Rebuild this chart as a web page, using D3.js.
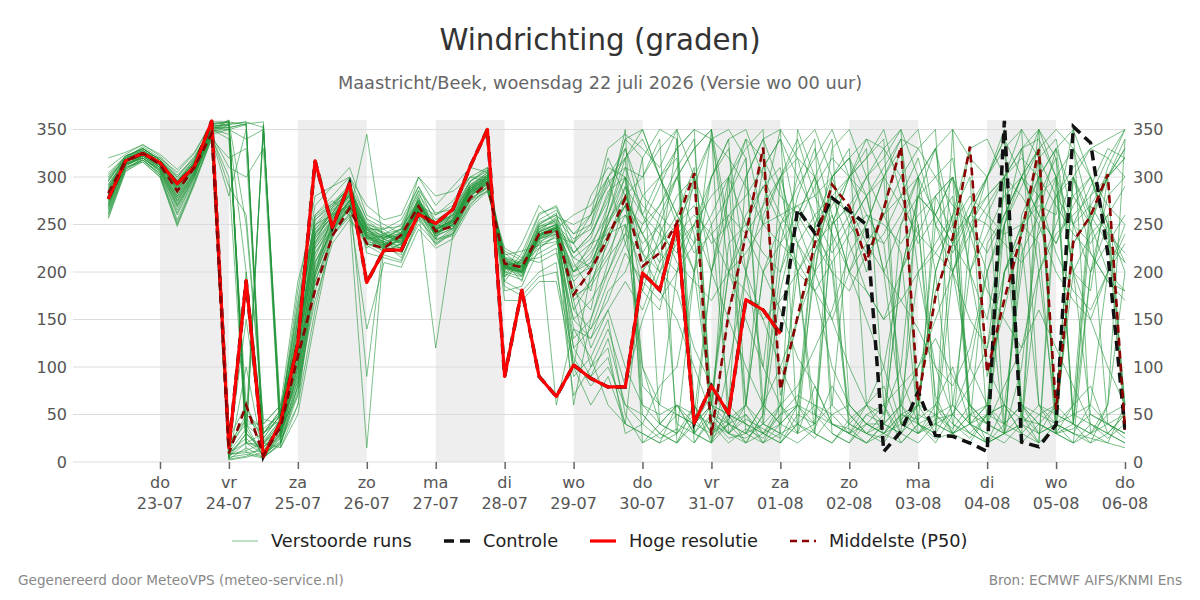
<!DOCTYPE html>
<html><head><meta charset="utf-8">
<script src="https://cdn.jsdelivr.net/npm/d3@7"></script>
<style>body{margin:0;background:#fff} svg{display:block}</style>
</head><body><svg id="c" width="1200" height="600"></svg>
<script>
// ---------- DATA ----------
const startTime = Date.UTC(2026, 6, 22, 6); // first 6-hourly step
const stepHours = 6;
const hres = [277,317,325,315,293,311,359,15,191,6,42,125,317,247,293,189,223,223,261,251,266,311,350,90,181,90,69,102,88,79,79,199,181,250,41,80,51,171,160,135];
const control = [277,317,325,315,293,311,359,15,191,6,42,125,317,247,293,189,223,223,261,251,266,311,350,90,181,90,69,102,88,79,79,199,181,250,41,80,51,171,160,135,
  266,241,278,264,250,11,32,74,28,27,20,11,359,21,16,39,353,336,220,34];
const p50 = [283,317,325,313,285,310,346,9,60,7,37,111,181,238,267,230,225,239,269,243,248,278,293,209,205,240,244,176,202,236,278,206,220,252,304,28,157,239,331,76,153,230,292,269,211,266,332,65,174,236,332,94,171,241,329,55,232,259,303,34];
const members = [
 [282,318,326,314,288,312,352,10,25,8,30,110,230,255,275, 235,228,240,270,245,255,285,295,205,200,235,240,170,190,230, 290,210,230,260,310,20,160,240,330,70,150,220,280,260,200, 270,330,60,180,230,330,90,160,240,320,50,230,260,300,40],
 [270,312,322,310,275,305,355,358,40,5,20,90,200,250,265, 240,220,230,260,250,245,280,300,210,190,250,260,210,180,260, 320,60,40,30,200,350,30,25,40,180,260,300,240,30,20, 40,200,280,330,250,60,20,30,100,250,300,40,20,60,200],
 [300,322,330,318,295,318,348,5,200,20,45,150,250,270,290, 250,235,225,280,235,265,290,305,195,210,230,245,130,150,210, 280,240,200,250,290,340,240,60,30,20,40,250,280,300,330, 60,20,40,280,300,250,200,30,40,320,340,250,200,230,260],
 [260,308,320,306,268,300,345,350,355,10,35,70,180,240,260, 15,230,215,250,230,240,270,290,220,205,220,230,200,220,250, 300,100,60,50,40,30,45,60,200,250,270,240,210,50,30, 25,45,60,30,200,260,300,340,60,40,30,250,270,240,40],
 [290,316,324,312,290,314,358,20,45,30,55,130,240,265,280, 225,240,245,285,240,250,275,290,215,200,245,255,180,160,240, 270,180,240,280,300,200,300,340,250,230,210,180,150,200,250, 300,330,350,250,200,150,120,250,300,350,320,200,180,300,340],
 [275,314,328,316,282,308,350,3,15,5,25,100,220,245,270, 230,225,235,265,120,240,280,295,200,195,240,60,140,130,180, 200,250,290,330,350,40,20,35,25,50,60,40,300,320,240, 230,90,40,25,30,50,40,200,250,230,30,20,40,30,50],
 [285,320,325,312,280,310,347,360,30,355,15,60,200,262,290, 240,230,225,275,245,255,290,300,190,215,260,270,230,200,270, 330,260,220,200,300,340,350,320,40,30,20,35,80,50,30, 40,60,200,230,260,40,50,60,30,20,280,310,330,320,300],
 [265,310,318,304,260,298,356,358,250,40,60,190,260,280,300, 255,240,250,290,250,260,295,310,180,185,225,240,90,110,150, 50,20,40,60,30,50,40,60,260,300,340,280,240,200,180, 150,170,200,220,250,280,260,240,250,270,260,350,30,20,60],
 [295,320,332,320,300,322,352,15,50,35,50,140,260,275,260, 245,245,230,270,260,275,300,300,200,230,270,250,200,230,260, 310,300,340,20,60,20,100,200,270,350,30,40,60,250,280, 300,40,30,60,100,40,30,20,40,200,250,300,260,230,210],
 [280,316,326,316,292,316,350,340,60,10,20,80,190,235,300, 220,215,210,255,235,240,275,285,225,215,210,220,150,170,200, 250,200,230,250,270,230,250,300,340,290,200,180,210,240,260, 250,230,260,280,240,260,250,230,210,240,280,300,220,190,180],
 [272,312,322,308,270,302,342,300,20,15,40,120,240,258,280, 238,232,220,262,242,248,282,296,207,198,235,243,100,200,250, 280,50,30,20,45,25,40,30,60,40,350,300,250,270,300, 320,350,30,40,50,30,20,60,200,350,40,30,25,20,15],
 [310,324,334,322,302,320,354,8,10,12,28,95,210,250,272, 248,222,238,268,250,258,288,298,212,205,248,252,220,240,280, 340,350,300,320,30,60,230,250,290,310,200,50,40,30,60, 50,100,280,300,320,200,150,250,290,330,30,60,280,320,350],
 [258,306,318,302,255,296,340,280,350,25,50,170,270,290,310, 260,250,240,300,270,290,310,305,190,180,200,210,70,100,120, 30,40,25,35,20,45,25,30,40,60,30,80,40,35,20, 30,50,45,60,40,25,50,60,45,40,30,35,50,40,30],
 [288,318,324,314,286,312,350,12,180,30,55,160,250,260,270, 242,236,245,275,238,262,292,302,216,210,255,265,240,250,300, 330,280,260,240,200,250,280,340,320,280,260,230,200,180,220, 260,300,330,350,60,40,30,200,240,280,300,250,230,260,290],
 [292,320,328,316,296,315,353,356,30,15,35,110,230,268,285, 235,238,232,272,248,252,286,293,203,207,238,248,160,190,220, 260,220,200,230,250,280,300,30,20,40,60,50,30,20,50, 40,30,300,330,350,40,60,30,20,40,60,40,30,60,340],
 [268,314,320,306,265,302,348,5,30,350,45,100,210,245,265, 140,210,205,245,225,235,268,285,222,212,215,225,120,140,170, 220,190,170,200,230,260,300,250,220,200,250,290,320,300,280, 200,170,140,100,80,120,200,260,300,280,220,180,160,200,240],
 [300,318,326,320,305,325,356,358,355,5,30,80,170,230,255, 232,228,242,282,255,265,295,308,198,192,242,258,250,260,330, 345,330,310,350,60,30,50,40,20,30,40,25,50,60,40, 30,20,40,50,35,60,40,30,50,20,40,60,80,30,20],
 [276,312,324,310,278,306,345,25,60,20,15,50,150,240,270, 250,245,255,290,260,270,300,295,185,175,195,200,110,80,100, 60,40,80,100,200,300,330,200,100,60,80,120,160,220,250, 300,340,200,100,50,80,120,200,250,300,330,200,150,100,60],
 [284,316,330,318,290,310,351,18,40,40,60,130,235,260,282, 246,230,228,266,232,246,280,292,210,202,232,240,200,210,245, 260,230,250,300,330,350,250,200,150,100,60,30,250,300,320, 350,280,230,260,300,200,100,60,30,300,330,280,250,300,330],
 [262,310,316,300,250,294,344,310,300,330,20,70,190,238,258, 228,218,212,258,228,242,278,288,218,222,228,232,190,120,160, 190,160,210,240,260,240,200,180,150,170,200,230,250,270,230, 200,250,280,260,230,200,240,280,300,260,230,280,300,250,210],
 [296,322,328,316,294,316,357,2,5,10,40,120,225,252,276, 238,226,236,264,246,250,284,296,206,200,240,246,60,150,200, 240,320,350,340,30,20,60,300,340,350,320,300,60,40,30, 20,50,40,30,350,320,300,40,30,50,60,300,330,340,350],
 [278,316,322,312,284,308,349,350,200,30,45,150,245,262,286, 252,240,235,278,236,254,288,300,211,203,236,244,230,280,310, 300,80,60,200,250,200,150,100,60,200,280,330,260,200,150, 100,40,60,200,260,300,40,30,260,300,50,40,200,280,300],
 [270,314,320,308,272,304,346,4,100,8,22,60,160,245,275, 230,222,230,260,230,244,276,290,208,196,230,236,150,130,160, 100,60,50,60,40,60,50,20,30,50,70,60,40,30,20, 40,60,30,45,50,30,20,40,60,50,40,20,30,50,60],
 [304,322,330,318,298,318,351,352,356,358,35,140,255,272,292, 256,246,248,286,262,266,296,306,195,220,262,268,220,235,285, 300,270,250,210,190,170,200,220,250,260,270,280,300,320,340, 300,270,240,220,200,240,270,300,280,250,200,170,150,200,250],
 [286,318,326,314,287,311,353,10,35,6,28,105,215,256,278, 237,229,233,267,241,249,283,294,204,199,237,245,205,225,270, 350,20,30,50,40,70,200,260,290,250,200,30,20,40,60, 80,30,20,40,230,260,280,300,40,30,60,300,250,200,180],
 [274,312,320,308,276,304,346,355,358,352,50,180,280,290,300, 270,255,260,300,280,285,300,310,170,170,190,190,100,90,110, 40,30,20,30,50,200,260,240,200,160,110,80,40,30,50, 60,80,100,150,200,250,280,300,320,300,270,240,220,190,170],
 [290,320,330,318,292,316,355,6,20,18,42,125,238,258,284, 244,234,240,270,244,256,286,298,213,206,244,250,215,205,255, 280,300,330,350,300,250,60,40,30,20,50,40,250,300,340, 330,300,250,70,30,40,60,250,330,340,300,200,50,40,30],
 [266,310,318,304,262,300,343,290,260,45,40,85,200,238,262, 345,226,218,262,234,238,272,286,215,208,225,238,230,260,300, 320,340,300,260,230,300,340,350,300,260,230,200,230,260,300, 330,350,300,260,230,270,300,330,350,320,280,250,290,330,320],
 [298,320,326,314,296,314,354,14,150,25,50,165,255,270,288, 247,242,228,276,252,260,292,304,199,213,250,262,170,100,140, 80,150,200,180,120,80,40,30,60,100,150,200,150,100,60, 30,60,100,130,90,60,40,80,120,160,120,80,40,25,40],
 [280,316,324,312,286,310,350,360,20,355,30,115,228,254,274, 236,230,236,268,240,250,284,296,205,200,238,246,190,210,250, 290,260,300,330,350,340,320,290,250,300,330,350,300,250,220, 240,280,320,250,220,260,300,340,300,260,230,270,300,250,200],
 [256,306,316,300,248,292,340,320,330,20,40,90,210,242,268, 234,224,226,262,238,246,280,292,210,204,234,242,180,200,235, 270,250,270,310,340,60,30,20,50,300,320,250,200,40,30, 50,250,300,200,40,30,50,300,330,200,50,40,270,300,320],
 [320,326,334,324,308,326,358,358,10,5,18,75,195,248,270, 242,234,242,272,246,254,288,296,208,202,242,250,230,250,320, 280,240,210,340,20,50,30,45,35,25,60,200,330,350,300, 260,220,40,30,60,200,260,300,350,60,30,40,250,310,350],
 [284,314,322,310,280,306,350,8,12,20,35,115,232,256,282, 90,236,244,274,240,254,286,298,207,201,239,247,140,110,60, 40,200,260,300,240,40,30,50,20,60,40,30,20,45,60, 100,200,250,40,30,20,50,40,60,30,40,50,60,40,25],
 [278,318,326,316,294,312,352,350,340,350,30,100,225,250,275, 240,232,238,268,244,252,286,300,205,200,240,248,200,215,260, 300,220,250,40,30,200,280,320,60,40,30,220,260,200,230, 260,280,300,330,200,100,60,40,220,260,330,350,300,240,220],
 [268,312,320,306,270,302,346,12,45,350,25,95,205,246,266, 230,226,234,264,238,246,280,294,212,206,236,244,215,230,240, 250,100,40,30,60,30,40,200,310,340,250,200,300,320,280, 200,60,40,20,50,100,200,250,50,30,40,230,260,300,320],
 [302,322,330,318,300,320,354,354,30,10,42,135,245,266,286, 240,236,246,276,248,258,290,302,214,208,246,254,120,90,130, 60,50,30,20,40,60,200,240,270,300,230,180,100,60,40, 30,40,30,50,60,40,20,30,250,280,320,40,30,40,50],
 [288,320,324,312,284,310,352,352,356,30,48,145,248,268,290, 248,240,230,272,250,260,290,300,206,212,252,260,240,260,290, 320,350,300,260,220,240,260,280,310,340,300,260,220,250,280, 310,340,330,300,270,250,220,260,300,330,350,330,300,270,250],
 [272,314,320,308,274,304,344,5,8,4,20,80,195,244,270, 236,226,240,266,242,250,284,292,204,196,240,246,175,185,215, 240,220,180,150,100,50,30,60,200,230,260,300,340,60,40, 30,50,60,200,260,330,340,300,60,40,30,20,200,250,60],
 [292,318,328,316,290,314,356,7,30,12,36,125,240,262,280, 244,238,236,270,246,252,286,298,210,204,242,250,100,60,90, 40,30,20,60,50,40,300,330,350,20,40,60,50,30,40, 60,30,50,40,30,50,60,200,230,60,40,30,20,30,50],
 [282,316,326,314,288,312,350,345,20,30,52,155,258,272,288, 246,238,240,274,248,256,288,302,208,210,248,256,235,245,295, 310,260,240,220,250,300,340,60,40,30,230,260,280,230,180, 150,200,240,280,300,240,180,150,120,200,240,260,280,300,330],
 [262,308,318,302,252,294,342,3,6,16,30,105,220,250,272, 238,228,232,266,240,250,282,294,208,200,238,246,260,270,300, 230,180,160,240,300,60,40,20,50,230,300,340,30,20,40, 40,200,280,260,300,40,20,30,40,20,300,330,260,40,30],
 [296,322,330,318,296,318,353,356,358,6,26,85,200,250,276, 238,230,236,268,242,252,284,296,206,202,238,246,220,240,275, 340,320,40,60,30,20,40,50,30,60,200,240,270,300,320, 340,40,60,50,30,240,300,350,40,60,50,200,240,260,60],
 [276,314,322,310,278,306,348,10,20,8,32,120,236,258,280, 242,232,236,268,244,254,286,298,210,200,240,248,195,205,240, 270,240,270,300,330,350,200,150,100,250,290,320,350,300,260, 230,260,300,60,30,40,230,260,300,330,40,30,60,200,230],
 [286,318,326,314,290,312,351,355,40,22,44,128,242,262,284, 244,236,238,272,246,254,288,300,208,206,242,250,160,140,190, 230,280,300,250,200,60,50,40,30,40,60,250,300,330,60, 40,30,60,250,280,60,40,300,330,350,300,50,40,30,20]
];
const yTicks = [0, 50, 100, 150, 200, 250, 300, 350];
const dayNames = ["zo", "ma", "di", "wo", "do", "vr", "za"];
const titleText = "Windrichting (graden)";
const subtitleText = "Maastricht/Beek, woensdag 22 juli 2026 (Versie wo 00 uur)";
const legendLabels = ["Verstoorde runs", "Controle", "Hoge resolutie", "Middelste (P50)"];
const footerLeft = "Gegenereerd door MeteoVPS (meteo-service.nl)";
const footerRight = "Bron: ECMWF AIFS/KNMI Ens";

// ---------- CHART ----------
const svg = d3.select("#c");
const font = "DejaVu Sans, Verdana, sans-serif";
const plotL = 73, plotR = 1125, plotT = 120, plotB = 462;
const ensColor = "#23963a", ensOpacity = 0.6;
const timeAt = i => new Date(startTime + i * stepHours * 3600e3);
const x = d3.scaleUtc().domain([new Date(Date.UTC(2026,6,23)), new Date(Date.UTC(2026,7,6))]).range([160, 1125]);
const y = d3.scaleLinear().domain([0, 360]).range([plotB, plotT]);
const tickDates = d3.utcDay.range(new Date(Date.UTC(2026,6,23)), new Date(Date.UTC(2026,7,6,1)));

svg.append("defs").append("clipPath").attr("id","clip").append("rect")
  .attr("x", plotL).attr("y", plotT - 2).attr("width", plotR - plotL + 1).attr("height", plotB - plotT + 4);

// alternate day shading
const g = svg.append("g");
tickDates.forEach((d, k) => {
  if (k % 2 === 0 && k < tickDates.length - 1) {
    g.append("rect").attr("x", x(d)).attr("y", plotT)
      .attr("width", x(tickDates[k+1]) - x(d)).attr("height", plotB - plotT).attr("fill", "#eeeeee");
  }
});
// grid
g.selectAll(".grid").data(yTicks).join("line")
  .attr("x1", plotL).attr("x2", plotR).attr("y1", d => y(d)).attr("y2", d => y(d))
  .attr("stroke", "#dcdcdc").attr("stroke-width", 1);

// y axes labels
const yl = d3.axisLeft(y).tickValues(yTicks).tickSize(0).tickPadding(6);
const ylG = svg.append("g").attr("transform", `translate(${plotL},0)`).call(yl);
const yrG = svg.append("g").attr("transform", `translate(${plotR + 2},0)`).call(d3.axisRight(y).tickValues(yTicks).tickSize(0).tickPadding(6));
[ylG, yrG].forEach(a => {
  a.select(".domain").remove();
  a.selectAll("text").attr("font-family", font).attr("font-size", 16).attr("fill", "#555");
});

// x axis
const xa = svg.append("g").attr("transform", `translate(0,${plotB})`)
  .call(d3.axisBottom(x).tickValues(tickDates).tickSize(7).tickFormat(""));
xa.select(".domain").remove();
xa.selectAll("line").attr("stroke", "#666").attr("stroke-width", 1.5);
const xl = svg.append("g");
tickDates.forEach(d => {
  xl.append("text").attr("x", x(d)).attr("y", 488).attr("text-anchor", "middle")
    .attr("font-family", font).attr("font-size", 16).attr("fill", "#555").text(dayNames[d.getUTCDay()]);
  xl.append("text").attr("x", x(d)).attr("y", 509).attr("text-anchor", "middle")
    .attr("font-family", font).attr("font-size", 16).attr("fill", "#555").text(d3.utcFormat("%d-%m")(d));
});

// lines
const line = d3.line().x((d, i) => x(timeAt(i))).y(d => y(d));
const lg = svg.append("g").attr("clip-path", "url(#clip)");
lg.selectAll(".m").data(members).join("path")
  .attr("d", line).attr("fill", "none").attr("stroke", ensColor).attr("stroke-opacity", ensOpacity).attr("stroke-width", 1);
lg.append("path").attr("d", line(control)).attr("fill", "none").attr("stroke", "#111")
  .attr("stroke-width", 3.5).attr("stroke-dasharray", "10,6");
lg.append("path").attr("d", line(hres)).attr("fill", "none").attr("stroke", "#ff0000").attr("stroke-width", 3.2)
  .attr("stroke-linejoin", "round");
lg.append("path").attr("d", line(p50)).attr("fill", "none").attr("stroke", "#8b0000")
  .attr("stroke-width", 2.6).attr("stroke-dasharray", "8,5");

// titles
svg.append("text").attr("x", 600).attr("y", 50).attr("text-anchor", "middle")
  .attr("font-family", font).attr("font-size", 29.3).attr("fill", "#333").text(titleText);
svg.append("text").attr("x", 600).attr("y", 89).attr("text-anchor", "middle")
  .attr("font-family", font).attr("font-size", 17.75).attr("fill", "#666").text(subtitleText);

// legend
const leg = svg.append("g");
const items = [
  {x: 232, stroke: ensColor, op: ensOpacity, w: 1, dash: null},
  {x: 444, stroke: "#111", op: 1, w: 3.5, dash: "10,6"},
  {x: 590, stroke: "#ff0000", op: 1, w: 3.2, dash: null},
  {x: 790, stroke: "#8b0000", op: 1, w: 2.6, dash: "7,5"}
];
items.forEach((it, k) => {
  leg.append("line").attr("x1", it.x).attr("x2", it.x + 26).attr("y1", 541).attr("y2", 541)
    .attr("stroke", it.stroke).attr("stroke-opacity", it.op).attr("stroke-width", it.w).attr("stroke-dasharray", it.dash);
  leg.append("text").attr("x", it.x + 39).attr("y", 547).attr("font-family", font).attr("font-size", 17.75)
    .attr("fill", "#222").text(legendLabels[k]);
});

// footer
svg.append("text").attr("x", 18).attr("y", 585).attr("font-family", font).attr("font-size", 13.6)
  .attr("fill", "#888").text(footerLeft);
svg.append("text").attr("x", 1182).attr("y", 585).attr("text-anchor", "end").attr("font-family", font).attr("font-size", 13.6)
  .attr("fill", "#888").text(footerRight);
</script></body></html>
